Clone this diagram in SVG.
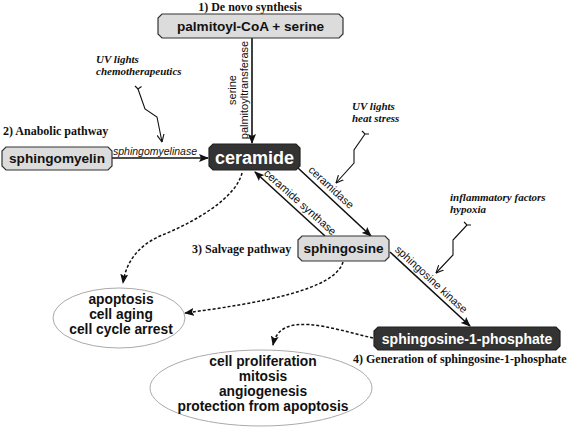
<svg xmlns="http://www.w3.org/2000/svg" width="567" height="428" viewBox="0 0 567 428">
<defs>
<style>
.box-l{fill:#dcdcdc;stroke:#333;stroke-width:1.2}
.box-d{fill:#333;stroke:#222;stroke-width:1.2}
.nt{font-family:"Liberation Sans",Arial,sans-serif;font-weight:bold;text-anchor:middle;fill:#111}
.nt-w{font-family:"Liberation Sans",Arial,sans-serif;font-weight:bold;text-anchor:middle;fill:#fff}
.title{font-family:"Liberation Serif","Times New Roman",serif;font-weight:bold;font-size:12px;fill:#111}
.stim{font-family:"Liberation Serif","Times New Roman",serif;font-weight:bold;font-style:italic;font-size:11px;fill:#111}
.enz{font-family:"Liberation Sans",Arial,sans-serif;font-size:11px;fill:#111;text-anchor:middle}
.solid{fill:none;stroke:#111;stroke-width:1.6;marker-end:url(#ah)}
.dash{fill:none;stroke:#111;stroke-width:1.5;stroke-dasharray:3 2;marker-end:url(#ah2)}
.bolt{fill:none;stroke:#111;stroke-width:1.1;marker-end:url(#open)}
.fork{fill:none;stroke:#111;stroke-width:1.1}
.ell{fill:#fff;stroke:#aaa;stroke-width:1}
</style>
<marker id="ah" viewBox="0 0 10 8" refX="9" refY="4" markerWidth="10" markerHeight="8" markerUnits="userSpaceOnUse" orient="auto">
<path d="M0,0 L10,4 L0,8 L2,4 z" fill="#111"/>
</marker>
<marker id="ah2" viewBox="0 0 10 8" refX="9" refY="4" markerWidth="10" markerHeight="8" markerUnits="userSpaceOnUse" orient="auto">
<path d="M0,0 L10,4 L0,8 L2,4 z" fill="#111"/>
</marker>
<marker id="open" viewBox="0 0 8 8" refX="7.5" refY="4" markerWidth="8" markerHeight="8" markerUnits="userSpaceOnUse" orient="auto">
<path d="M0,0.5 L7.5,4 L0,7.5" fill="none" stroke="#111" stroke-width="1.1"/>
</marker>
</defs>
<rect width="567" height="428" fill="#fff"/>

<g id="connectors">
<path class="solid" d="M252,38 L252,143"/>
<path class="solid" d="M112,158 L208,158"/>
<path class="solid" d="M298,168 L371,236"/>
<path class="solid" d="M325,236 L255,172"/>
<path class="solid" d="M390,252 L470,326"/>
<path class="dash" d="M242,173 C236,198 195,222 160,236 C138,246 126,262 123,283"/>
<path class="dash" d="M343,262 C335,290 260,303 185,313"/>
<path class="dash" d="M373,338 C330,328 280,310 273,345"/>
<text class="enz" transform="translate(252,90) rotate(-90)" x="0" y="-16">serine</text>
<text class="enz" transform="translate(252,90) rotate(-90)" x="0" y="-4">palmitoyltransferase</text>
<text class="enz" x="155" y="155" font-style="italic" style="font-size:10.5px">sphingomyelinase</text>
<text class="enz" transform="translate(326,193) rotate(42.6)" x="0" y="-4">ceramidase</text>
<text class="enz" transform="translate(295,208) rotate(41.7)" x="0" y="-4">ceramide synthase</text>
<text class="enz" transform="translate(426,285) rotate(42.6)" x="0" y="-4">sphingosine kinase</text>
</g>

<g id="stimulus1">
<text class="stim" x="96" y="63">UV lights</text>
<text class="stim" x="96" y="75">chemotherapeutics</text>
<path class="fork" d="M135,86 L138,89 L141.5,86.5"/>
<path class="bolt" d="M138,89 L145,109 L157,117 L162,142"/>
</g>
<g id="stimulus2">
<text class="stim" x="352" y="110">UV lights</text>
<text class="stim" x="352" y="122">heat stress</text>
<path class="fork" d="M362,131 L365,134 L369,134"/>
<path class="bolt" d="M365,134 L354,150 L354,163 L336,183"/>
</g>
<g id="stimulus3">
<text class="stim" x="450" y="201">inflammatory factors</text>
<text class="stim" x="450" y="213">hypoxia</text>
<path class="fork" d="M464,222 L467,225 L471,225"/>
<path class="bolt" d="M467,225 L453,240 L453,255 L436,273"/>
</g>

<g id="node-palmitoyl">
<text class="title" x="250" y="10.5" text-anchor="middle">1) De novo synthesis</text>
<path class="box-l" d="M162,14 L339,14 L343,18 L343,34 L339,38 L162,38 L158,34 L158,18 z"/>
<text class="nt" x="250.5" y="31" font-size="13.6">palmitoyl-CoA + serine</text>
</g>

<g id="node-sphingomyelin">
<text class="title" x="3" y="135">2) Anabolic pathway</text>
<path class="box-l" d="M6,147 L108,147 L112,151 L112,166 L108,170 L6,170 L2,166 L2,151 z"/>
<text class="nt" x="57" y="163" font-size="13.6">sphingomyelin</text>
</g>

<g id="node-ceramide">
<path class="box-d" d="M213,144 L296,144 L300,148 L300,166 L296,170 L213,170 L209,166 L209,148 z"/>
<text class="nt-w" x="254.5" y="163.5" font-size="18">ceramide</text>
</g>

<g id="node-sphingosine">
<text class="title" x="192" y="253">3) Salvage pathway</text>
<path class="box-l" d="M302,236 L385,236 L389,240 L389,257 L385,261 L302,261 L298,257 L298,240 z"/>
<text class="nt" x="343.5" y="253" font-size="13.6">sphingosine</text>
</g>

<g id="node-s1p">
<path class="box-d" d="M378,327 L556,327 L560,331 L560,346 L556,350 L378,350 L374,346 L374,331 z"/>
<text class="nt-w" x="467" y="343.5" font-size="14">sphingosine-1-phosphate</text>
<text class="title" x="353" y="363">4) Generation of sphingosine-1-phosphate</text>
</g>

<g id="node-apoptosis">
<ellipse class="ell" cx="119" cy="318" rx="66" ry="30"/>
<text class="nt" x="121" y="304" font-size="13.8">apoptosis</text>
<text class="nt" x="121" y="319" font-size="13.8">cell aging</text>
<text class="nt" x="121" y="334" font-size="13.8">cell cycle arrest</text>
</g>

<g id="node-proliferation">
<ellipse class="ell" cx="261" cy="388" rx="111" ry="38"/>
<text class="nt" x="263" y="366" font-size="13.8">cell proliferation</text>
<text class="nt" x="263" y="381" font-size="13.8">mitosis</text>
<text class="nt" x="263" y="396" font-size="13.8">angiogenesis</text>
<text class="nt" x="263" y="411" font-size="13.8">protection from apoptosis</text>
</g>
</svg>
